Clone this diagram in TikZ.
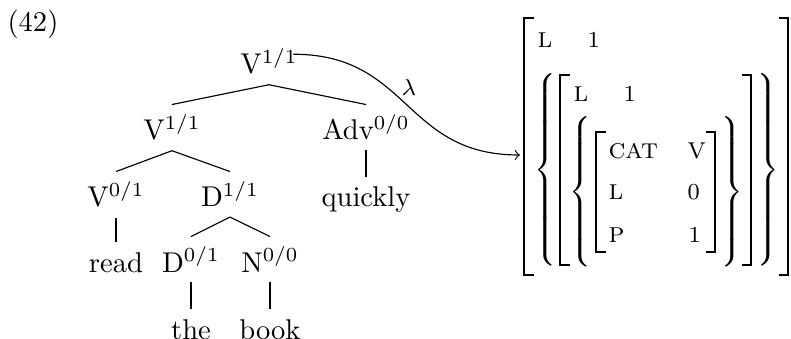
\documentclass[tikz,border=0pt]{standalone}
\usepackage{exscale}
\usetikzlibrary{positioning}

% braces of a given height for the AVM
\delimiterfactor=1000
\delimitershortfall=0pt
\nulldelimiterspace=0pt
\newcommand{\avmL}[2]{$\left#1\vcenter{\hrule height #2 width 0pt}\right.$}
\newcommand{\avmR}[2]{$\left.\vcenter{\hrule height #2 width 0pt}\right#1$}

\tikzset{
  lbl/.style={anchor=base},
  attr/.style={anchor=base west, inner sep=0pt},
  val/.style={anchor=base west, inner sep=0pt, font=\footnotesize},
  brc/.style={inner sep=0pt, font=\footnotesize},
  brk/.style={line width=0.6pt},
}

\begin{document}
\begin{tikzpicture}[x=0.35pt,y=0.35pt]
\useasboundingbox (0,0) rectangle (791,338);

\node[lbl] (num) at (33,306) {(42)};

%drawing the tree
\node[lbl] (root) at (269,264) {V$^{1/1}$};
\node[lbl] (vA) at (172,198) {V$^{1/1}$};
\node[lbl] (adv) at (366,198) {Adv$^{0/0}$};
\node[lbl] (v01) at (116,131) {V$^{0/1}$};
\node[lbl] (d11) at (230,131) {D$^{1/1}$};
\node[lbl] (quick) at (366,131) {quickly};
\node[lbl] (read) at (116,66) {read};
\node[lbl] (d01) at (191,66) {D$^{0/1}$};
\node[lbl] (n00) at (270,66) {N$^{0/0}$};
\node[lbl] (the) at (191,-1) {the};
\node[lbl] (book) at (270,-1) {book};

%branches
\draw (root.south) -- (vA.north);
\draw (root.south) -- (adv.north);
\draw (vA.south) -- (v01.north);
\draw (vA.south) -- (d11.north);
\draw (adv.south) -- (quick.north);
\draw (v01.south) -- (read.north);
\draw (d11.south) -- (d01.north);
\draw (d11.south) -- (n00.north);
\draw (d01.south) -- (the.north);
\draw (n00.south) -- (book.north);

% AVM brackets
\draw[brk] (534,320) -- (524,320) -- (524,63) -- (534,63);
\draw[brk] (779,320) -- (788,320) -- (788,63) -- (779,63);
\draw[brk] (570,263) -- (560,263) -- (560,73) -- (570,73);
\draw[brk] (742,263) -- (751,263) -- (751,73) -- (742,73);
\draw[brk] (606,206) -- (596,206) -- (596,86) -- (606,86);
\draw[brk] (706,206) -- (715,206) -- (715,86) -- (706,86);

% AVM braces
\node[brc] (obl) at (545,168) {\avmL\{{66.9pt}};
\node[brc] (obr) at (768.5,168) {\avmR\}{66.9pt}};
\node[brc] (ibl) at (580.5,146) {\avmL\{{49pt}};
\node[brc] (ibr) at (732.5,146) {\avmR\}{49pt}};

% AVM features
\node[attr] (oL) at (537,290) {\textsc{l}};
\node[val] (oV) at (587,290) {1};
\node[attr] (iL) at (573,236) {\textsc{l}};
\node[val] (iV) at (623,236) {1};
\node[attr] (cat) at (608,179) {\textsc{cat}};
\node[val] (catV) at (687,179) {V};
\node[attr] (lev) at (608,138) {\textsc{l}};
\node[val] (levV) at (687,138) {0};
\node[attr] (pos) at (608,96) {\textsc{p}};
\node[val] (posV) at (688,96) {1};
\coordinate (tip) at (520,183);

% lambda arrow
\draw[->] ([shift={(-5pt,-5.5pt)}]root.north east) to[out=0,in=180,looseness=1.2] (tip);
\node[font=\footnotesize] (lam) at (409,250) {$\lambda$};
\end{tikzpicture}
\end{document}
